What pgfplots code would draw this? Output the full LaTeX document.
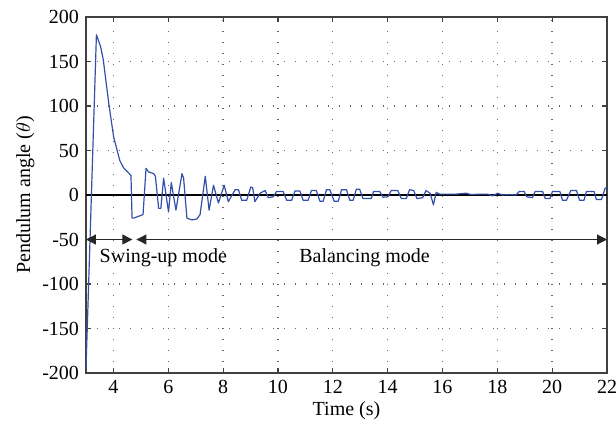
\documentclass[border=0pt]{standalone}
\usepackage{fontspec}
\setmainfont{Liberation Serif}
\usepackage{pgfplots}
\pgfplotsset{compat=1.18}
\usetikzlibrary{arrows.meta}
\definecolor{pend}{RGB}{50,80,170}

\begin{document}
\fontsize{10}{12}\selectfont
\begin{tikzpicture}
\useasboundingbox (-43pt,-28.5pt) rectangle (265pt,186.5pt);
\begin{axis}[
  scale only axis,
  width=260.5pt, height=178pt,
  xmin=3, xmax=22, ymin=-200, ymax=200,
  xtick={4,6,...,22}, ytick={-200,-150,...,200},
  /pgf/number format/assume math mode=true,
  tick label style={font=\fontsize{10}{12}\selectfont},
  label style={font=\fontsize{10}{12}\selectfont},
  xlabel={Time (s)}, ylabel={Pendulum angle ($\theta$)},
  xlabel style={yshift=3pt},
  ylabel style={yshift=-3pt},
  grid=major,
  grid style={black!60, line width=0.7pt, dash pattern=on 0.7pt off 4.8pt},
  axis line style={black!75, line width=0.9pt},
  tick style={black!75, line width=0.6pt},
  tick align=inside, major tick length=2.5pt,
  clip=true,
]
% zero reference line
\addplot[black, line width=0.7pt] coordinates {(3,0) (22,0)};

% pendulum angle response
\addplot[pend, line width=0.6pt, line join=round] coordinates {
 (3.0,-195) (3.38,180) (3.53,167) (3.63,152) (3.83,103) (4.01,65) (4.23,39)
 (4.36,31) (4.64,22) (4.68,-26) (4.74,-26) (5.08,-22) (5.19,30) (5.28,26)
 (5.47,24) (5.53,21) (5.65,-15) (5.73,-15) (5.83,19) (6.01,-19) (6.11,14)
 (6.28,-17) (6.50,24) (6.56,19) (6.68,-26) (6.86,-28) (7.04,-27) (7.16,-22)
 (7.35,21) (7.49,-17) (7.65,11) (7.83,-9) (8.04,11) (8.19,-7.5) (8.44,6)
 (8.56,6) (8.68,-6) (8.86,-6) (9.01,9) (9.08,8) (9.16,-7.5) (9.35,2)
 (9.53,5) (9.65,-3) (9.83,-2) (9.95,4) (10.19,4) (10.32,-6) (10.5,-6)
 (10.62,4.5) (10.8,4.5) (10.92,-6) (11.1,-6) (11.22,5) (11.4,5) (11.53,-7)
 (11.65,-7) (11.77,6) (11.89,6) (12.05,-7) (12.2,-7) (12.32,6) (12.5,6)
 (12.62,-6) (12.74,-6) (12.86,6.5) (12.98,6.5) (13.1,-4) (13.4,-4) (13.49,4)
 (13.71,4) (13.83,-2.5) (14.01,-2) (14.13,5) (14.37,5) (14.5,-4) (14.68,-4)
 (14.8,6) (14.95,5) (15.07,-4) (15.28,-3) (15.4,5) (15.55,2) (15.67,-11)
 (15.77,3) (15.89,1) (16.13,1) (16.5,1) (16.86,2) (17.04,0.5) (17.35,1)
 (17.65,1) (17.83,-1) (18.01,2) (18.19,0) (18.44,0.5) (18.68,0) (18.8,4)
 (18.98,4) (19.07,-2) (19.28,-3) (19.38,4) (19.65,4) (19.75,-4) (19.92,-4)
 (20.01,4) (20.28,4) (20.38,-6) (20.52,-6) (20.68,5) (20.89,5) (21.0,-6)
 (21.16,-6) (21.25,4) (21.53,4) (21.61,-5) (21.8,-5) (21.93,7.5) (22,8.5)
};

% mode annotations
\draw[black!85, line width=0.6pt, {Triangle[length=5pt,width=5pt]}-{Triangle[length=5pt,width=5pt]}]
  (axis cs:3,-50) -- (axis cs:4.69,-50);
\draw[black!85, line width=0.6pt, {Triangle[length=5pt,width=5pt]}-{Triangle[length=5pt,width=5pt]}]
  (axis cs:4.84,-50) -- (axis cs:22,-50);
\node[font=\fontsize{10}{12}\selectfont] at (axis cs:5.82,-71) {Swing-up mode};
\node[font=\fontsize{10}{12}\selectfont] at (axis cs:13.16,-71) {Balancing mode};
\end{axis}
\end{tikzpicture}
\end{document}
